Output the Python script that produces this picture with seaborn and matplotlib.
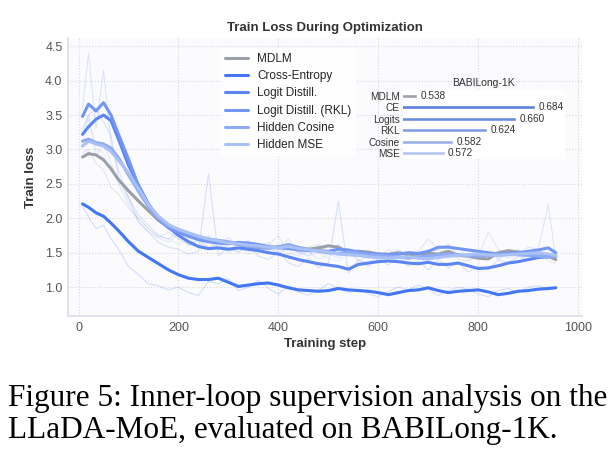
import matplotlib.pyplot as plt
import pandas as pd
import seaborn as sns

# training steps at which the curves were read
steps = [8, 20, 35, 50, 65, 80, 100, 120, 140, 160, 180, 200, 220, 240, 260, 280,
         300, 320, 340, 360, 380, 400, 420, 440, 460, 480, 500, 520, 540, 560, 580,
         600, 620, 640, 660, 680, 700, 720, 740, 760, 780, 800, 820, 840, 860, 880,
         900, 920, 940, 955]

methods = ["MDLM", "Cross-Entropy", "Logit Distill.", "Logit Distill. (RKL)",
           "Hidden Cosine", "Hidden MSE"]
colors = ["#9aa0a9", "#4276f2", "#5a85f2", "#7296f4", "#8caaf6", "#aac1f8"]

# smoothed curves
smooth_mdlm = [2.89, 2.94, 2.92, 2.85, 2.72, 2.56, 2.40, 2.25, 2.11, 1.97, 1.87, 1.82,
               1.78, 1.74, 1.69, 1.66, 1.64, 1.62, 1.59, 1.57, 1.57, 1.59, 1.61, 1.56,
               1.55, 1.57, 1.60, 1.58, 1.51, 1.52, 1.51, 1.48, 1.48, 1.50, 1.47, 1.48,
               1.49, 1.48, 1.52, 1.46, 1.45, 1.42, 1.41, 1.50, 1.53, 1.51, 1.49, 1.50,
               1.45, 1.40]
smooth_ce = [2.21, 2.16, 2.08, 2.03, 1.93, 1.82, 1.66, 1.52, 1.43, 1.34, 1.25, 1.18,
             1.13, 1.11, 1.11, 1.13, 1.07, 1.01, 1.03, 1.05, 1.06, 1.03, 0.99, 0.96,
             0.95, 0.94, 0.95, 0.98, 0.96, 0.95, 0.94, 0.92, 0.89, 0.92, 0.95, 0.96,
             0.99, 0.95, 0.92, 0.94, 0.95, 0.96, 0.93, 0.89, 0.91, 0.94, 0.95, 0.97,
             0.98, 0.99]
smooth_logit = [3.22, 3.33, 3.44, 3.50, 3.42, 3.15, 2.77, 2.48, 2.20, 2.01, 1.87, 1.75,
                1.66, 1.59, 1.56, 1.57, 1.55, 1.57, 1.55, 1.53, 1.50, 1.48, 1.44, 1.40,
                1.37, 1.34, 1.32, 1.30, 1.26, 1.33, 1.35, 1.37, 1.38, 1.37, 1.35, 1.34,
                1.36, 1.33, 1.33, 1.35, 1.31, 1.27, 1.28, 1.31, 1.35, 1.37, 1.40, 1.43,
                1.44, 1.45]
smooth_rkl = [3.48, 3.66, 3.56, 3.68, 3.50, 3.22, 2.86, 2.47, 2.21, 1.99, 1.86, 1.79,
              1.74, 1.69, 1.66, 1.64, 1.63, 1.65, 1.64, 1.62, 1.59, 1.57, 1.56, 1.54,
              1.53, 1.53, 1.52, 1.55, 1.54, 1.51, 1.49, 1.48, 1.47, 1.48, 1.50, 1.49,
              1.52, 1.58, 1.58, 1.56, 1.54, 1.52, 1.50, 1.48, 1.49, 1.50, 1.52, 1.54,
              1.57, 1.50]
smooth_cos = [3.12, 3.15, 3.10, 3.08, 3.02, 2.88, 2.63, 2.39, 2.17, 2.00, 1.89, 1.83,
              1.78, 1.73, 1.70, 1.68, 1.66, 1.62, 1.60, 1.58, 1.56, 1.58, 1.62, 1.58,
              1.55, 1.52, 1.50, 1.49, 1.51, 1.49, 1.47, 1.46, 1.45, 1.44, 1.42, 1.44,
              1.45, 1.47, 1.48, 1.47, 1.46, 1.45, 1.46, 1.47, 1.48, 1.47, 1.46, 1.45,
              1.44, 1.45]
smooth_mse = [3.05, 3.12, 3.08, 3.05, 2.97, 2.84, 2.66, 2.43, 2.20, 2.03, 1.91, 1.84,
              1.79, 1.74, 1.70, 1.67, 1.64, 1.63, 1.61, 1.60, 1.58, 1.57, 1.59, 1.56,
              1.54, 1.53, 1.51, 1.48, 1.47, 1.46, 1.44, 1.43, 1.42, 1.43, 1.44, 1.42,
              1.41, 1.43, 1.45, 1.46, 1.47, 1.48, 1.47, 1.46, 1.47, 1.48, 1.49, 1.50,
              1.48, 1.46]

# raw (unsmoothed) curves, drawn faint
raw_mdlm = [2.95, 3.00, 2.80, 2.70, 2.45, 2.35, 2.15, 2.00, 1.85, 1.72, 1.80, 1.70,
            1.62, 1.70, 1.58, 1.65, 1.55, 1.62, 1.52, 1.60, 1.65, 1.55, 1.70, 1.48,
            1.58, 1.62, 1.52, 1.45, 1.55, 1.48, 1.52, 1.42, 1.55, 1.45, 1.50, 1.40,
            1.55, 1.45, 1.62, 1.40, 1.38, 1.45, 1.80, 1.55, 1.48, 1.55, 1.45, 1.52,
            1.38, 1.35]
raw_ce = [2.18, 2.02, 1.85, 1.90, 1.70, 1.55, 1.30, 1.18, 1.05, 1.02, 0.96, 1.00,
          0.92, 0.88, 1.08, 1.05, 1.12, 0.95, 1.00, 1.10, 0.98, 0.90, 1.02, 0.93,
          0.88, 0.96, 1.05, 0.98, 0.92, 0.97, 0.90, 0.86, 0.94, 1.00, 0.96, 1.03,
          0.97, 0.88, 0.95, 1.00, 0.97, 0.90, 0.86, 0.95, 0.98, 0.92, 1.00, 1.02,
          0.96, 1.01]
raw_logit = [3.30, 3.50, 3.60, 3.40, 3.20, 2.60, 2.30, 1.95, 1.80, 1.65, 1.58, 1.55,
             1.48, 1.52, 2.65, 1.45, 1.58, 1.50, 1.62, 1.45, 1.40, 1.52, 1.35, 1.30,
             1.42, 1.28, 1.35, 2.25, 1.20, 1.40, 1.30, 1.42, 1.32, 1.45, 1.30, 1.38,
             1.25, 1.40, 1.28, 1.35, 1.22, 1.30, 1.25, 1.40, 1.35, 1.45, 1.38, 1.50,
             1.42, 1.48]
raw_rkl = [3.60, 4.40, 3.30, 4.15, 3.10, 2.70, 2.30, 2.05, 1.90, 1.75, 1.70, 1.82,
           1.62, 1.58, 1.75, 1.55, 1.72, 1.60, 1.68, 1.50, 1.62, 1.48, 1.58, 1.52,
           1.45, 1.60, 1.50, 1.62, 1.45, 1.55, 1.42, 1.50, 1.40, 1.55, 1.45, 1.52,
           1.70, 1.55, 1.62, 1.48, 1.55, 1.45, 1.52, 1.42, 1.50, 1.48, 1.58, 1.55,
           2.20, 1.42]
raw_cos = [3.20, 3.50, 2.90, 3.10, 2.80, 2.50, 2.20, 1.95, 1.80, 1.72, 1.65, 1.78,
           1.60, 1.68, 1.55, 1.62, 1.50, 1.58, 1.48, 1.55, 1.62, 1.75, 1.50, 1.45,
           1.52, 1.40, 1.48, 1.42, 1.55, 1.38, 1.45, 1.40, 1.48, 1.35, 1.42, 1.50,
           1.45, 1.55, 1.42, 1.48, 1.40, 1.50, 1.45, 1.52, 1.42, 1.48, 1.40, 1.45,
           1.50, 1.38]
raw_mse = [3.10, 3.45, 3.00, 2.95, 2.70, 2.55, 2.25, 2.00, 1.85, 1.75, 1.70, 1.62,
           1.72, 1.58, 1.65, 1.55, 1.60, 1.52, 1.58, 1.62, 1.50, 1.55, 1.48, 1.52,
           1.45, 1.50, 1.42, 1.38, 1.48, 1.40, 1.35, 1.45, 1.38, 1.42, 1.48, 1.35,
           1.40, 1.45, 1.50, 1.42, 1.50, 1.45, 1.52, 1.40, 1.48, 1.52, 1.45, 1.55,
           1.42, 1.40]

# inset: BABILong-1K accuracy
bar_labels = ["MDLM", "CE", "Logits", "RKL", "Cosine", "MSE"]
bar_scores = [0.538, 0.684, 0.660, 0.624, 0.582, 0.572]

smooth = [smooth_mdlm, smooth_ce, smooth_logit, smooth_rkl, smooth_cos, smooth_mse]
raw = [raw_mdlm, raw_ce, raw_logit, raw_rkl, raw_cos, raw_mse]


def long_table(series):
    rows = []
    for name, vals in zip(methods, series):
        for s, v in zip(steps, vals):
            rows.append({"step": s, "loss": v, "method": name})
    return pd.DataFrame(rows)


df_smooth = long_table(smooth)
df_raw = long_table(raw)
palette = dict(zip(methods, colors))

sns.set_theme(style="whitegrid")
plt.rcParams["font.family"] = ["Liberation Sans", "DejaVu Sans"]

fig = plt.figure(figsize=(6.13, 4.58), dpi=100)
ax = fig.add_axes([0.111, 0.31, 0.838, 0.607])
ax.set_facecolor("#fbfbfd")

sns.lineplot(data=df_raw, x="step", y="loss", hue="method", palette=palette,
             linewidth=0.8, alpha=0.22, legend=False, ax=ax)
sns.lineplot(data=df_smooth, x="step", y="loss", hue="method", palette=palette,
             linewidth=2.2, ax=ax)

ax.set_xlim(-21, 1007)
ax.set_ylim(0.58, 4.62)
ax.set_xticks([0, 200, 400, 600, 800, 1000])
ax.set_yticks([1.0, 1.5, 2.0, 2.5, 3.0, 3.5, 4.0, 4.5])
ax.grid(True, linestyle=":", color="#d5d8de", linewidth=0.8)
for side in ["top", "right"]:
    ax.spines[side].set_visible(False)
for side in ["left", "bottom"]:
    ax.spines[side].set_color("#dcdfe6")
ax.tick_params(labelsize=9, colors="#555555", length=0, pad=4)
ax.set_xlabel("Training step", fontsize=9.5, fontweight="bold", color="#333333", labelpad=3)
ax.set_ylabel("Train loss", fontsize=9.5, fontweight="bold", color="#333333", labelpad=6)
ax.set_title("Train Loss During Optimization", fontsize=9.5, fontweight="bold",
             color="#333333", pad=5)

leg = ax.legend(loc="upper left", bbox_to_anchor=(0.285, 0.985), fontsize=8.5,
                frameon=True, facecolor="white", edgecolor="none", framealpha=0.9,
                handlelength=1.9, labelspacing=0.45, borderpad=0.4)
for line in leg.get_lines():
    line.set_linewidth(2.2)

# inset bar chart
ins = fig.add_axes([0.657, 0.653, 0.264, 0.151])
ins.set_facecolor("white")
sns.barplot(x=bar_scores, y=bar_labels, hue=bar_labels, palette=colors, orient="h",
            width=0.35, legend=False, ax=ins)
ins.set_xlim(0.52, 0.72)
ins.set_xticks([])
ins.grid(False)
for side in ins.spines:
    ins.spines[side].set_visible(False)
ins.tick_params(axis="y", labelsize=7.2, colors="#333333", length=0, pad=2)
ins.set_title("BABILong-1K", fontsize=7.5, color="#333333", pad=3)
for i, v in enumerate(bar_scores):
    ins.text(v + 0.004, i, f"{v:.3f}", va="center", ha="left", fontsize=7.2, color="#333333")

fig.text(0.013, 0.114, "Figure 5: Inner-loop supervision analysis on the",
         family="Liberation Serif", fontsize=22.5, color="black")
fig.text(0.013, 0.044, "LLaDA-MoE, evaluated on BABILong-1K.",
         family="Liberation Serif", fontsize=22.5, color="black")

fig.savefig("out.png", dpi=100)
